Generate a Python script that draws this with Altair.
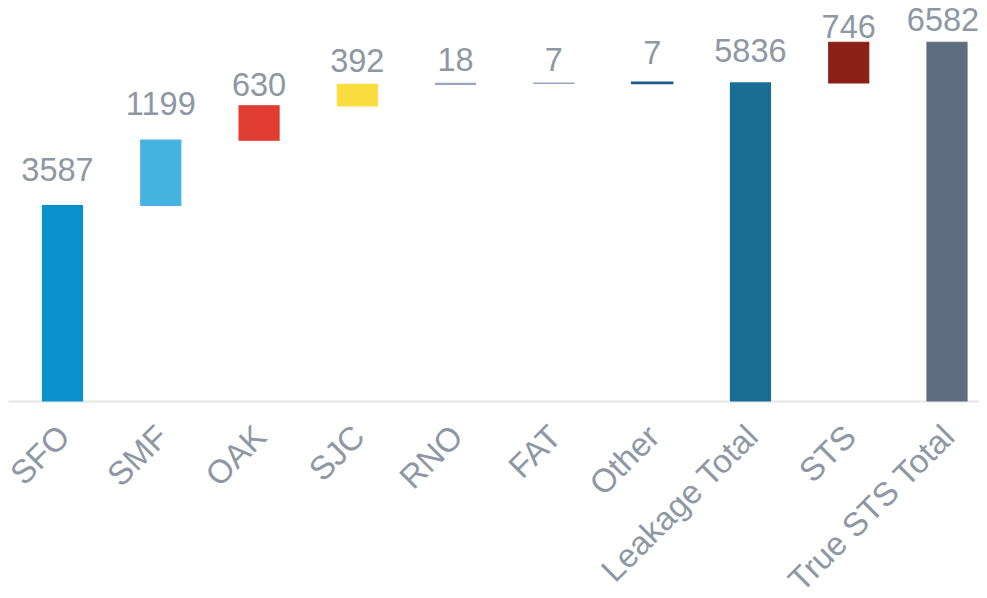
import altair as alt
import pandas as pd

categories = ["SFO", "SMF", "OAK", "SJC", "RNO", "FAT", "Other",
              "Leakage Total", "STS", "True STS Total"]
values = [3587, 1199, 630, 392, 18, 7, 7, 5836, 746, 6582]
is_total = [False, False, False, False, False, False, False, True, False, True]

# style (not data)
bar_colors = ["#0a90cc", "#45b3e0", "#e03c31", "#fbdc3e", "#9ba4c4",
              "#9ba4c4", "#1b5a88", "#1a6e95", "#8b2018", "#5e6e80"]
label_gap = {"SFO": 24, "SMF": 25, "OAK": 10, "SJC": 12, "RNO": 12,
             "FAT": 12, "Other": 19, "Leakage Total": 21, "STS": 4,
             "True STS Total": 11}
label_dx = {"SFO": -5, "True STS Total": -4}
text_color = "#8d98a4"
FONT = "Liberation Sans"

rows = []
running = 0
for c, v, t in zip(categories, values, is_total):
    if t:
        start, end = 0, v
        running = v
    else:
        start, end = running, running + v
        running = end
    rows.append({"cat": c, "start": start, "end": end, "label": str(v)})
df = pd.DataFrame(rows)

x_enc = alt.X(
    "cat:N", sort=categories,
    scale=alt.Scale(paddingInner=0.593, paddingOuter=0.2365, align=0.742, round=False),
    axis=alt.Axis(title=None, labelAngle=-45, labelFontSize=33,
                  labelColor=text_color, labelFont=FONT, ticks=False,
                  domainColor="#e6e6e6", domainWidth=2, grid=False,
                  labelPadding=19, labelOffset=-9, labelLimit=0),
)
y_scale = alt.Scale(domain=[0, 7210], nice=False, zero=True)

base = alt.Chart(df)

bars = base.mark_bar().encode(
    x=x_enc,
    y=alt.Y("start:Q", scale=y_scale, axis=None),
    y2="end:Q",
    color=alt.Color("cat:N", scale=alt.Scale(domain=categories, range=bar_colors), legend=None),
    stroke=alt.Stroke("cat:N", scale=alt.Scale(domain=categories, range=bar_colors), legend=None),
    strokeWidth=alt.condition("datum.cat == 'Other'", alt.value(2.5), alt.value(1.2)),
)

layers = [bars]
groups = {}
for c in categories:
    groups.setdefault((label_gap[c], label_dx.get(c, 0)), []).append(c)
for (gap, dx), cats in groups.items():
    layers.append(
        base.transform_filter(alt.FieldOneOfPredicate(field="cat", oneOf=cats))
        .mark_text(dy=-gap, dx=dx, baseline="alphabetic", fontSize=32.5,
                   color=text_color, font=FONT)
        .encode(x=x_enc, y=alt.Y("end:Q", scale=y_scale, axis=None), text="label:N")
    )

chart = alt.layer(*layers).properties(
    width=971, height=393,
    padding={"left": 0, "top": 0, "right": 0, "bottom": 195},
    autosize=alt.AutoSizeParams(type="none"),
).configure_view(stroke=None)

chart.save("out.html", embed_options={"renderer": "svg", "actions": False})
